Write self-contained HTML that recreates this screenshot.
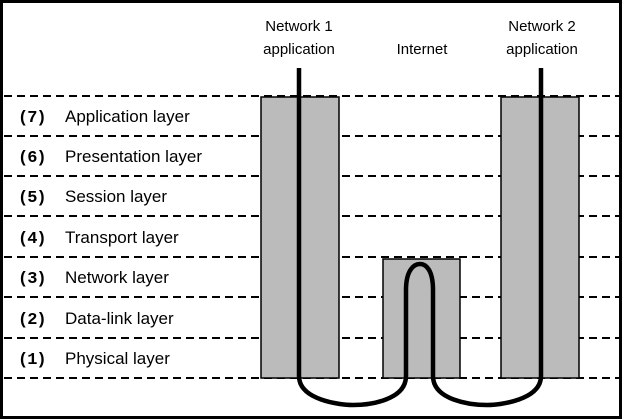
<!DOCTYPE html>
<html><head><meta charset="utf-8"><style>
html,body{margin:0;padding:0;background:#fff;}
svg{display:block;}
text{font-family:"Liberation Sans",sans-serif;fill:#000;}
.m{font-family:"Liberation Mono",monospace;font-weight:bold;letter-spacing:-1px;}
</style></head><body>
<svg width="623" height="420" viewBox="0 0 623 420">
<rect x="1.5" y="1.5" width="619" height="416" fill="#fff" stroke="#000" stroke-width="3"/>
<g stroke="#000" stroke-width="2" stroke-dasharray="8,5">
<line x1="4" y1="96" x2="620" y2="96"/>
<line x1="4" y1="136" x2="620" y2="136"/>
<line x1="4" y1="176" x2="620" y2="176"/>
<line x1="4" y1="216" x2="620" y2="216"/>
<line x1="4" y1="257" x2="620" y2="257"/>
<line x1="4" y1="297" x2="620" y2="297"/>
<line x1="4" y1="338" x2="620" y2="338"/>
<line x1="4" y1="378" x2="620" y2="378"/>
</g>
<g fill="#bbb" stroke="#000" stroke-width="1.5">
<rect x="261" y="97" width="78" height="281"/>
<rect x="383" y="259" width="77" height="119"/>
<rect x="501" y="97" width="78" height="281"/>
</g>
<path d="M299 68 V376 C299 400 340 405 353 405 C370 405 406 400 406 376 V290 C406 270 414 264 420 264 C426 264 433 270 433 290 V376 C433 400 470 405 487 405 C500 405 541 400 541 376 V68" fill="none" stroke="#000" stroke-width="4.5"/>
<g font-size="15" text-anchor="middle">
<text x="299" y="31">Network 1</text>
<text x="299" y="54">application</text>
<text x="422" y="54">Internet</text>
<text x="542" y="31">Network 2</text>
<text x="542" y="54">application</text>
</g>
<g font-size="17">
<text class="m" x="18" y="122" font-size="17">(7)</text><text x="65" y="122">Application layer</text>
<text class="m" x="18" y="162" font-size="17">(6)</text><text x="65" y="162">Presentation layer</text>
<text class="m" x="18" y="202" font-size="17">(5)</text><text x="65" y="202">Session layer</text>
<text class="m" x="18" y="243" font-size="17">(4)</text><text x="65" y="243">Transport layer</text>
<text class="m" x="18" y="283" font-size="17">(3)</text><text x="65" y="283">Network layer</text>
<text class="m" x="18" y="324" font-size="17">(2)</text><text x="65" y="324">Data-link layer</text>
<text class="m" x="18" y="364" font-size="17">(1)</text><text x="65" y="364">Physical layer</text>
</g>
</svg>
</body></html>
